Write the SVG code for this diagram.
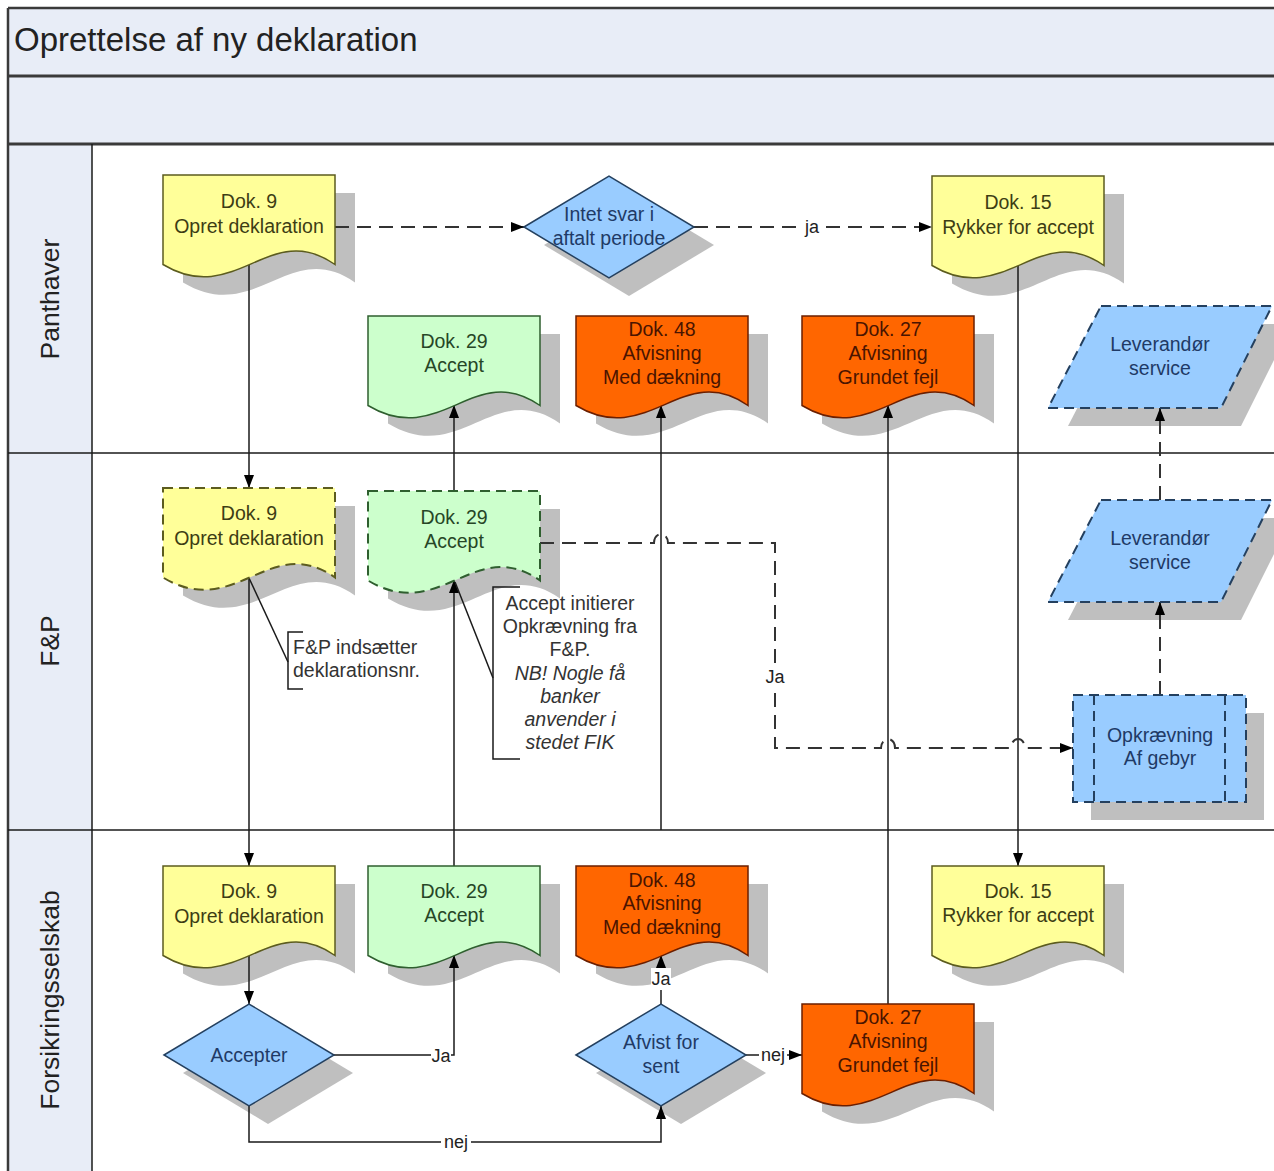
<svg xmlns="http://www.w3.org/2000/svg" xmlns:xlink="http://www.w3.org/1999/xlink" width="1274" height="1171" viewBox="0 0 1274 1171">
<defs>
<style>
.t{font-family:"Liberation Sans",Arial,sans-serif;font-size:19.5px;text-anchor:middle}
.ty{fill:#3D3D14}.tg{fill:#264626}.to{fill:#4A1400}.tb{fill:#1F3A66}.tn{fill:#333}
.doc-y{fill:#FFFF99;stroke:#5C5C1F;stroke-width:1.5}
.doc-g{fill:#CCFFCC;stroke:#2F5F2F;stroke-width:1.5}
.doc-o{fill:#FF6600;stroke:#6B1F00;stroke-width:1.5}
.blue{fill:#99CCFF;stroke:#24405F;stroke-width:1.5}
.dash{stroke-dasharray:10 6;stroke-width:2}
.shadow{fill:#BFBFBF;stroke:none}
.band{fill:#E8EDF7}
.frame{stroke:#3A3A3A;stroke-width:2.5;fill:none}
.lane{stroke:#1A1A1A;stroke-width:1.5;fill:none}
.c{fill:none;stroke:#1A1A1A;stroke-width:1.5}
.cd{fill:none;stroke:#333;stroke-width:2;stroke-dasharray:14 8}
.lbl{font-family:"Liberation Sans",Arial,sans-serif;font-size:18px;fill:#222;text-anchor:middle}
.lbg{fill:#fff}
.lanetxt{font-family:"Liberation Sans",Arial,sans-serif;font-size:26.5px;fill:#222;text-anchor:middle}
</style>
<path id="doc" d="M0,0 H172 V89.5 C106.6,43.7 72.2,133 0,89.5 Z"/>
<path id="dia" d="M-85,0 L0,-51 L85,0 L0,51 Z"/>
<path id="para" d="M53,0 H224 L173,102 H0 Z"/>
<marker id="ah" viewBox="0 0 13 10" refX="13" refY="5" markerWidth="13" markerHeight="10" markerUnits="userSpaceOnUse" orient="auto">
<path d="M0,0 L13,5 L0,10 Z" fill="#000"/>
</marker>
</defs>

<rect x="0" y="0" width="1274" height="1171" fill="#fff"/>

<g id="frame">
<rect class="band" x="8" y="8" width="1266" height="136"/>
<rect class="band" x="8" y="144" width="84" height="1027"/>
<line class="frame" x1="8" y1="8" x2="1274" y2="8"/>
<line class="frame" x1="8" y1="76" x2="1274" y2="76" style="stroke-width:3"/>
<line class="frame" x1="8" y1="144" x2="1274" y2="144" style="stroke-width:3"/>
<line class="frame" x1="8" y1="8" x2="8" y2="1171"/>
<line class="lane" x1="92" y1="144" x2="92" y2="1171"/>
<line class="lane" x1="8" y1="453" x2="1274" y2="453"/>
<line class="lane" x1="8" y1="830" x2="1274" y2="830"/>
<text x="14" y="51" style="font-family:'Liberation Sans',Arial,sans-serif;font-size:33px;fill:#222">Oprettelse af ny deklaration</text>
<text class="lanetxt" transform="translate(59,299) rotate(-90)">Panthaver</text>
<text class="lanetxt" transform="translate(59,641) rotate(-90)">F&amp;P</text>
<text class="lanetxt" transform="translate(59,1000) rotate(-90)">Forsikringsselskab</text>
</g>

<g id="shadows">
<use href="#doc" class="shadow" x="183" y="193"/>
<use href="#dia" class="shadow" transform="translate(629,245)"/>
<use href="#doc" class="shadow" x="952" y="194"/>
<use href="#doc" class="shadow" x="388" y="334"/>
<use href="#doc" class="shadow" x="596" y="334"/>
<use href="#doc" class="shadow" x="822" y="334"/>
<use href="#para" class="shadow" x="1068" y="324"/>
<use href="#doc" class="shadow" x="183" y="506"/>
<use href="#doc" class="shadow" x="388" y="509"/>
<use href="#para" class="shadow" x="1068" y="518"/>
<rect class="shadow" x="1091" y="713" width="173" height="107"/>
<use href="#doc" class="shadow" x="183" y="884"/>
<use href="#doc" class="shadow" x="388" y="884"/>
<use href="#doc" class="shadow" x="596" y="884"/>
<use href="#doc" class="shadow" x="952" y="884"/>
<use href="#doc" class="shadow" x="822" y="1022"/>
<use href="#dia" class="shadow" transform="translate(268,1073)"/>
<use href="#dia" class="shadow" transform="translate(681,1073)"/>
</g>

<g id="connectors">
<path class="c" d="M249,264 V488" marker-end="url(#ah)"/>
<path class="cd" d="M335,227 H524" marker-end="url(#ah)"/>
<path class="cd" d="M694,227 H932" marker-end="url(#ah)"/>
<rect class="lbg" x="802" y="216" width="20" height="22"/>
<text class="lbl" x="812" y="233">ja</text>
<path class="c" d="M1018,266 V866" marker-end="url(#ah)"/>
<path class="c" d="M249,578 V866" marker-end="url(#ah)"/>
<path class="c" d="M249,955 V1004" marker-end="url(#ah)"/>
<path class="c" d="M333,1055 H454 V955" marker-end="url(#ah)"/>
<rect class="lbg" x="431" y="1044" width="20" height="22"/>
<text class="lbl" x="441" y="1062">Ja</text>
<path class="c" d="M454,866 V580" marker-end="url(#ah)"/>
<path class="c" d="M454,491 V405" marker-end="url(#ah)"/>
<path class="c" d="M661,830 V405" marker-end="url(#ah)"/>
<path class="c" d="M888,1004 V405" marker-end="url(#ah)"/>
<path class="c" d="M249,1106 V1142 H661 V1106" marker-end="url(#ah)"/>
<rect class="lbg" x="441" y="1131" width="30" height="22"/>
<text class="lbl" x="456" y="1148">nej</text>
<path class="c" d="M661,1004 V955" marker-end="url(#ah)"/>
<rect class="lbg" x="651" y="968" width="20" height="22"/>
<text class="lbl" x="661" y="985">Ja</text>
<path class="c" d="M746,1055 H802" marker-end="url(#ah)"/>
<rect class="lbg" x="759" y="1044" width="28" height="22"/>
<text class="lbl" x="773" y="1061">nej</text>
<path class="cd" d="M540,543 H654 a7,9 0 0 1 14,0 H775 V748 H881 a7,9 0 0 1 14,0 H1011 a7,9 0 0 1 14,0 H1073" marker-end="url(#ah)"/>
<rect class="lbg" x="764" y="666" width="22" height="22"/>
<text class="lbl" x="775" y="683">Ja</text>
<path class="cd" d="M1160,695 V602" marker-end="url(#ah)"/>
<path class="cd" d="M1160,500 V408" marker-end="url(#ah)"/>
</g>

<g id="annotations">
<path class="c" d="M249,578 L288,662"/>
<path class="c" d="M303,632 H288 V689 H303"/>
<text class="t tn" x="293" y="654" style="text-anchor:start">F&amp;P indsætter</text>
<text class="t tn" x="293" y="677" style="text-anchor:start">deklarationsnr.</text>
<path class="c" d="M455,582 L493,678"/>
<path class="c" d="M520,587 H493 V759 H520"/>
<text class="t tn" x="570" y="610">Accept initierer</text>
<text class="t tn" x="570" y="633">Opkrævning fra</text>
<text class="t tn" x="570" y="656">F&amp;P.</text>
<text class="t tn" x="570" y="680" font-style="italic">NB! Nogle få</text>
<text class="t tn" x="570" y="703" font-style="italic">banker</text>
<text class="t tn" x="570" y="726" font-style="italic">anvender i</text>
<text class="t tn" x="570" y="749" font-style="italic">stedet FIK</text>
</g>

<g id="pan-dok9"><use href="#doc" class="doc-y" x="163" y="175"/><text class="t ty" x="249" y="208">Dok. 9</text><text class="t ty" x="249" y="233">Opret deklaration</text></g>
<g id="pan-intet"><use href="#dia" class="blue" transform="translate(609,227)"/><text class="t tb" x="609" y="221">Intet svar i</text><text class="t tb" x="609" y="245">aftalt periode</text></g>
<g id="pan-dok15"><use href="#doc" class="doc-y" x="932" y="176"/><text class="t ty" x="1018" y="209">Dok. 15</text><text class="t ty" x="1018" y="234">Rykker for accept</text></g>
<g id="pan-dok29"><use href="#doc" class="doc-g" x="368" y="316"/><text class="t tg" x="454" y="348">Dok. 29</text><text class="t tg" x="454" y="372">Accept</text></g>
<g id="pan-dok48"><use href="#doc" class="doc-o" x="576" y="316"/><text class="t to" x="662" y="336">Dok. 48</text><text class="t to" x="662" y="360">Afvisning</text><text class="t to" x="662" y="384">Med dækning</text></g>
<g id="pan-dok27"><use href="#doc" class="doc-o" x="802" y="316"/><text class="t to" x="888" y="336">Dok. 27</text><text class="t to" x="888" y="360">Afvisning</text><text class="t to" x="888" y="384">Grundet fejl</text></g>
<g id="pan-lev"><use href="#para" class="blue dash" x="1048" y="306"/><text class="t tb" x="1160" y="351">Leverandør</text><text class="t tb" x="1160" y="375">service</text></g>

<g id="fp-dok9"><use href="#doc" class="doc-y dash" x="163" y="488"/><text class="t ty" x="249" y="520">Dok. 9</text><text class="t ty" x="249" y="545">Opret deklaration</text></g>
<g id="fp-dok29"><use href="#doc" class="doc-g dash" x="368" y="491"/><text class="t tg" x="454" y="524">Dok. 29</text><text class="t tg" x="454" y="548">Accept</text></g>
<g id="fp-lev"><use href="#para" class="blue dash" x="1048" y="500"/><text class="t tb" x="1160" y="545">Leverandør</text><text class="t tb" x="1160" y="569">service</text></g>
<g id="fp-opk"><rect class="blue dash" x="1073" y="695" width="173" height="107"/><line class="blue dash" x1="1094" y1="695" x2="1094" y2="802"/><line class="blue dash" x1="1225" y1="695" x2="1225" y2="802"/><text class="t tb" x="1160" y="742">Opkrævning</text><text class="t tb" x="1160" y="765">Af gebyr</text></g>

<g id="fs-dok9"><use href="#doc" class="doc-y" x="163" y="866"/><text class="t ty" x="249" y="898">Dok. 9</text><text class="t ty" x="249" y="923">Opret deklaration</text></g>
<g id="fs-dok29"><use href="#doc" class="doc-g" x="368" y="866"/><text class="t tg" x="454" y="898">Dok. 29</text><text class="t tg" x="454" y="922">Accept</text></g>
<g id="fs-dok48"><use href="#doc" class="doc-o" x="576" y="866"/><text class="t to" x="662" y="887">Dok. 48</text><text class="t to" x="662" y="910">Afvisning</text><text class="t to" x="662" y="934">Med dækning</text></g>
<g id="fs-dok15"><use href="#doc" class="doc-y" x="932" y="866"/><text class="t ty" x="1018" y="898">Dok. 15</text><text class="t ty" x="1018" y="922">Rykker for accept</text></g>
<g id="fs-dok27"><use href="#doc" class="doc-o" x="802" y="1004"/><text class="t to" x="888" y="1024">Dok. 27</text><text class="t to" x="888" y="1048">Afvisning</text><text class="t to" x="888" y="1072">Grundet fejl</text></g>
<g id="fs-accepter"><use href="#dia" class="blue" transform="translate(249,1055)"/><text class="t tb" x="249" y="1062">Accepter</text></g>
<g id="fs-afvist"><use href="#dia" class="blue" transform="translate(661,1055)"/><text class="t tb" x="661" y="1049">Afvist for</text><text class="t tb" x="661" y="1073">sent</text></g>
</svg>
